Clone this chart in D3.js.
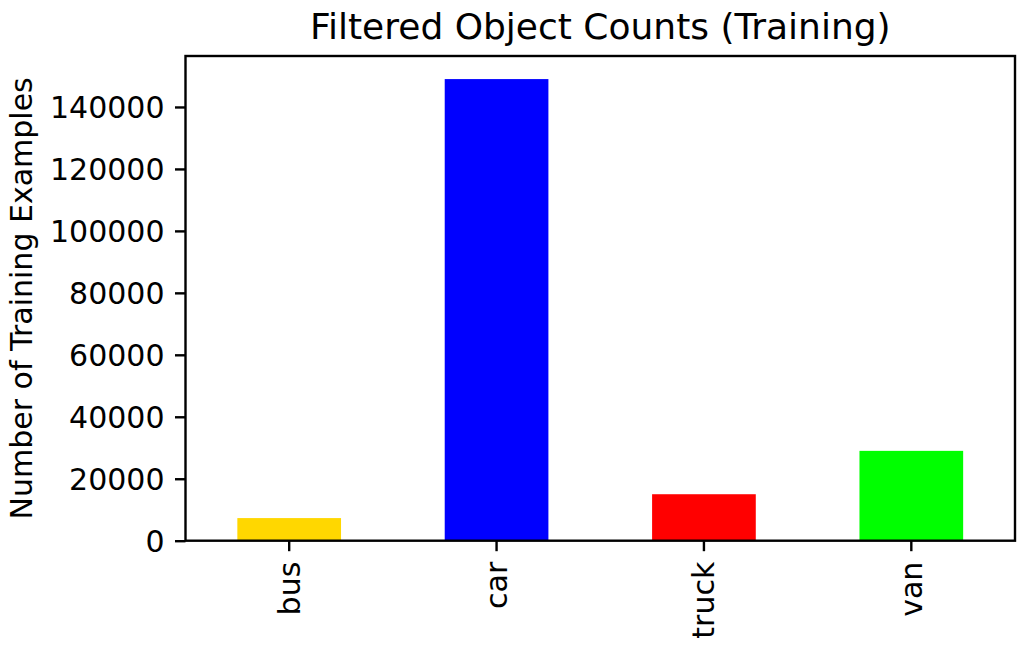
<!DOCTYPE html>
<html><head><meta charset="utf-8">
<script src="https://cdn.jsdelivr.net/npm/d3@7/dist/d3.min.js"></script>
<style>body{margin:0;background:#fff}svg{display:block}text{font-family:"DejaVu Sans",sans-serif;fill:#000}</style>
</head><body><svg id="c" width="1024" height="645"></svg>
<script>
const categories = ["bus", "car", "truck", "van"];
const counts = [7300, 149000, 15000, 29000];
const colors = ["#ffd700", "#0000ff", "#ff0000", "#00ff00"];
const yTicks = [0, 20000, 40000, 60000, 80000, 100000, 120000, 140000];

const svg = d3.select("#c");
const L = 185.5, R = 1015, T = 56, B = 540.7;
const x = d3.scaleBand().domain(categories).range([L, R]).paddingInner(0.5).paddingOuter(0.25);
const y = d3.scaleLinear().domain([0, d3.max(counts) * 1.05]).range([B, T]);

svg.append("g").selectAll("rect").data(categories).join("rect")
  .attr("x", d => x(d)).attr("width", x.bandwidth())
  .attr("y", (d, i) => y(counts[i])).attr("height", (d, i) => B - y(counts[i]))
  .attr("fill", (d, i) => colors[i]);

const yAxis = svg.append("g").attr("transform", `translate(${L},0)`)
  .call(d3.axisLeft(y).tickValues(yTicks).tickFormat(d3.format("d")).tickSize(10.5).tickPadding(10.5));
const xAxis = svg.append("g").attr("transform", `translate(0,${B})`)
  .call(d3.axisBottom(x).tickSize(10.5).tickPadding(0));
[yAxis, xAxis].forEach(a => {
  a.select(".domain").remove();
  a.selectAll(".tick line").attr("stroke", "#000").attr("stroke-width", 2.4);
  a.selectAll("text").attr("font-size", 30).attr("font-family", "DejaVu Sans");
});
yAxis.selectAll("text").attr("dy", "0.35em");
xAxis.selectAll(".tick text").attr("transform", "rotate(-90)").attr("text-anchor", "end")
  .attr("x", -21).attr("y", 0).attr("dy", "0.35em");

svg.append("rect").attr("x", L).attr("y", T).attr("width", R - L).attr("height", B - T)
  .attr("fill", "none").attr("stroke", "#000").attr("stroke-width", 2.4);

svg.append("text").attr("x", (L + R) / 2).attr("y", 39).attr("text-anchor", "middle")
  .attr("font-size", 36).text("Filtered Object Counts (Training)");
svg.append("text").attr("transform", `translate(32,${(T + B) / 2}) rotate(-90)`)
  .attr("text-anchor", "middle").attr("font-size", 30).text("Number of Training Examples");
</script></body></html>
